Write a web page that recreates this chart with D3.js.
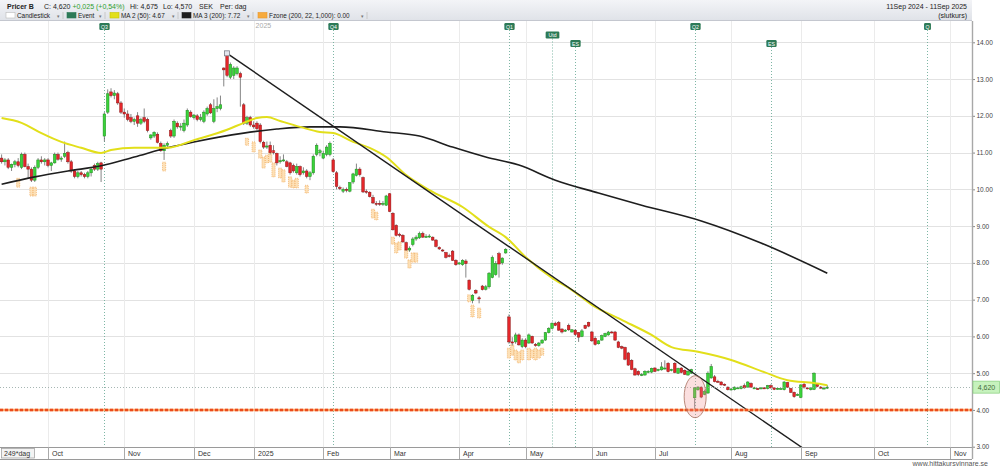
<!DOCTYPE html>
<html>
<head>
<meta charset="utf-8">
<title>Pricer B</title>
<script src="https://cdnjs.cloudflare.com/ajax/libs/d3/7.8.5/d3.min.js"></script>
<style>
  body { margin: 0; background: #fff; }
  svg { display: block; font-family: "Liberation Sans", Arial, sans-serif; }
</style>
</head>
<body>
<script>
// ---------------- data ----------------
// one candle per trading day, index 0 = 11 Sep 2024, index 249 = 11 Sep 2025
var opens = [
  10.85,10.75,10.8,10.6,10.68,10.75,10.6,10.95,10.62,10.55,
  10.25,10.6,10.8,10.75,10.8,10.65,10.72,10.95,10.82,10.9,
  11.0,10.75,10.5,10.35,10.45,10.4,10.35,10.45,10.65,10.55,
  10.72,11.45,12.1,12.65,12.55,12.6,12.35,12.1,12.05,11.95,
  11.85,12.0,11.8,11.95,11.9,11.4,11.45,11.5,11.25,11.05,
  11.2,11.6,11.45,11.8,11.7,11.6,11.75,12.1,11.95,12.0,
  11.9,11.85,12.05,12.3,11.85,12.2,12.2,13.3,13.65,13.05,
  13.1,13.15,13.15,12.3,11.8,11.95,11.75,11.8,11.75,11.28,
  11.15,11.2,11.05,10.98,10.75,10.8,10.75,10.72,10.65,10.45,
  10.62,10.45,10.5,10.35,10.45,10.95,11.0,10.85,10.95,10.95,
  10.8,10.45,10.05,9.95,10.0,9.95,10.2,10.38,10.55,10.32,
  9.95,9.92,9.78,9.62,9.62,9.6,9.57,9.88,9.35,9.02,
  8.78,8.75,8.55,8.35,8.5,8.65,8.68,8.8,8.72,8.72,
  8.7,8.62,8.42,8.35,8.28,8.2,8.32,8.07,7.97,7.95,
  8.05,7.53,6.98,7.25,7.05,7.37,7.28,7.35,7.6,7.68,
  8.25,8.0,8.27,6.53,5.85,5.85,6.04,5.72,5.9,5.82,
  6.0,5.78,5.75,5.82,5.9,6.1,6.22,6.36,6.38,6.2,
  6.15,6.3,6.12,6.17,6.1,6.0,6.3,6.38,6.12,5.95,
  5.8,5.9,6.0,6.04,6.12,6.12,5.85,5.72,5.7,5.55,
  5.35,5.12,5.05,4.95,4.95,5.03,5.03,5.14,5.08,5.09,
  5.12,5.27,5.08,5.27,5.0,5.14,5.08,4.95,5.0,4.33,
  4.55,4.62,4.42,4.46,4.87,4.9,4.78,4.76,4.7,4.62,
  4.56,4.55,4.6,4.58,4.66,4.62,4.72,4.6,4.58,4.58,
  4.6,4.58,4.66,4.6,4.56,4.58,4.55,4.74,4.58,4.48,
  4.42,4.34,4.7,4.6,4.55,4.56,4.7,4.62,4.58,4.6
];
var highs = [
  10.95,10.85,10.85,10.7,10.8,10.85,11.0,11.0,10.7,10.6,
  10.65,10.85,10.9,10.85,10.85,10.75,11.0,11.0,10.9,11.3,
  11.05,10.8,10.55,10.5,10.5,10.45,10.5,10.6,10.7,10.75,
  10.75,12.1,12.72,12.75,12.7,12.65,12.4,12.2,12.15,12.05,
  11.95,12.1,11.95,12.2,11.95,11.5,11.58,11.55,11.3,11.25,
  11.3,11.65,11.9,11.85,11.8,11.9,12.2,12.15,12.05,12.05,
  12.05,12.15,12.25,12.35,12.45,12.5,12.55,13.32,13.72,13.45,
  13.35,13.35,13.2,12.35,12.0,12.0,11.85,11.85,11.8,11.32,
  11.3,11.3,11.2,11.0,10.9,10.95,10.8,10.75,10.7,10.7,
  10.65,10.6,10.55,10.5,10.95,11.25,11.1,11.05,11.2,11.3,
  10.85,10.5,10.1,10.05,10.05,10.2,10.45,10.7,10.6,10.35,
  10.0,9.95,9.85,9.68,9.7,9.68,9.85,9.9,9.38,9.05,
  8.82,8.78,8.58,8.45,8.7,8.75,8.85,8.85,8.78,8.78,
  8.72,8.65,8.45,8.38,8.3,8.25,8.35,8.1,8.02,8.1,
  8.1,7.55,7.15,7.28,7.1,7.4,7.4,7.75,8.2,8.05,
  8.3,8.15,8.4,6.6,5.98,6.1,6.08,5.95,5.95,6.08,
  6.02,5.82,5.85,5.92,6.12,6.25,6.38,6.4,6.42,6.22,
  6.2,6.35,6.2,6.2,6.12,6.2,6.32,6.4,6.15,6.0,
  5.9,6.05,6.1,6.15,6.15,6.15,5.88,5.75,5.72,5.58,
  5.38,5.15,5.08,5.0,5.08,5.08,5.15,5.16,5.12,5.3,
  5.35,5.3,5.12,5.3,5.15,5.16,5.1,5.08,5.12,4.62,
  4.65,4.64,4.55,5.05,5.25,4.95,4.82,4.78,4.72,4.64,
  4.6,4.64,4.63,4.66,4.72,4.78,4.75,4.63,4.6,4.62,
  4.62,4.68,4.7,4.62,4.6,4.6,4.78,4.76,4.6,4.5,
  4.45,4.7,4.75,4.62,4.62,5.02,4.72,4.65,4.63,4.675
];
var lows = [
  10.7,10.65,10.55,10.5,10.6,10.6,10.55,10.6,10.3,10.2,
  10.2,10.55,10.7,10.65,10.6,10.5,10.7,10.78,10.75,10.85,
  10.7,10.45,10.3,10.3,10.35,10.3,10.3,10.35,10.5,10.5,
  10.2,11.3,12.05,12.5,12.45,12.3,12.05,11.95,11.85,11.8,
  11.75,11.7,11.75,11.8,11.55,11.35,11.4,11.25,11.02,10.8,
  11.1,11.4,11.4,11.65,11.6,11.55,11.7,11.95,11.9,11.85,
  11.85,11.8,12.0,12.05,11.8,12.1,12.15,12.8,13.05,13.0,
  13.0,13.1,12.25,11.75,11.75,11.7,11.65,11.6,11.25,11.1,
  11.1,10.95,10.95,10.65,10.7,10.75,10.6,10.4,10.45,10.4,
  10.35,10.4,10.3,10.25,10.4,10.9,10.9,10.82,10.9,10.9,
  10.45,10.0,9.98,9.9,9.92,9.92,10.15,10.35,10.35,9.9,
  9.88,9.78,9.6,9.55,9.55,9.55,9.55,9.38,8.88,8.72,
  8.7,8.55,8.33,8.3,8.45,8.6,8.65,8.68,8.68,8.68,
  8.6,8.42,8.35,8.3,8.12,8.15,8.05,7.92,7.95,7.92,
  7.6,7.25,6.9,7.15,6.9,7.25,7.25,7.3,7.58,7.65,
  7.6,7.95,8.25,5.8,5.75,5.8,5.75,5.68,5.68,5.8,
  5.8,5.72,5.72,5.8,5.88,6.08,6.2,6.28,6.15,6.08,
  6.12,6.15,6.1,6.02,5.85,5.98,6.2,6.25,5.85,5.75,
  5.78,5.88,5.98,6.02,6.08,5.88,5.68,5.65,5.35,5.2,
  5.08,4.93,4.92,4.92,4.93,5.0,5.0,5.03,5.05,5.07,
  5.1,5.02,5.05,5.0,4.98,5.0,4.95,4.93,4.98,4.02,
  4.52,4.32,4.4,4.44,4.85,4.75,4.74,4.67,4.65,4.53,
  4.53,4.53,4.57,4.56,4.58,4.6,4.6,4.57,4.55,4.56,
  4.57,4.56,4.58,4.54,4.55,4.56,4.53,4.6,4.46,4.33,
  4.38,4.32,4.58,4.56,4.53,4.54,4.62,4.58,4.56,4.57
];
var closes = [
  10.75,10.8,10.6,10.68,10.75,10.65,10.95,10.62,10.55,10.25,
  10.6,10.8,10.75,10.8,10.65,10.72,10.95,10.82,10.85,10.98,
  10.75,10.5,10.35,10.45,10.4,10.35,10.45,10.55,10.55,10.7,
  10.55,12.05,12.6,12.55,12.62,12.35,12.1,12.05,11.9,11.85,
  11.9,11.8,11.9,11.85,11.6,11.48,11.55,11.28,11.05,11.2,
  11.25,11.45,11.85,11.7,11.72,11.8,12.15,11.98,12.02,11.9,
  11.95,12.1,12.2,12.08,12.2,12.25,12.3,13.25,13.1,13.4,
  13.3,13.3,13.05,11.8,11.95,11.75,11.7,11.65,11.3,11.15,
  11.18,11.0,11.0,10.72,10.78,10.8,10.62,10.45,10.5,10.62,
  10.4,10.5,10.35,10.45,10.9,11.2,11.05,10.98,11.15,11.25,
  10.48,10.08,10.02,10.0,9.98,10.18,10.42,10.55,10.4,9.93,
  9.92,9.8,9.63,9.6,9.6,9.62,9.82,9.4,8.9,8.75,
  8.75,8.57,8.35,8.4,8.65,8.7,8.8,8.7,8.72,8.73,
  8.62,8.45,8.38,8.33,8.15,8.18,8.07,7.95,8.0,8.07,
  7.98,7.28,7.12,7.18,7.02,7.27,7.35,7.72,8.15,7.98,
  7.97,8.13,8.37,5.85,5.82,6.04,5.77,5.9,5.72,6.04,
  5.82,5.77,5.82,5.9,6.1,6.22,6.36,6.3,6.17,6.12,
  6.17,6.18,6.18,6.05,5.98,6.15,6.22,6.28,5.88,5.78,
  5.88,6.02,6.08,6.12,6.1,5.9,5.7,5.68,5.38,5.22,
  5.1,4.95,4.96,4.96,5.05,5.05,5.13,5.05,5.1,5.17,
  5.14,5.04,5.1,5.02,5.13,5.02,4.97,5.05,5.1,4.6,
  4.62,4.35,4.5,5.0,5.18,4.77,4.76,4.68,4.68,4.55,
  4.57,4.62,4.6,4.63,4.6,4.76,4.62,4.6,4.57,4.6,
  4.59,4.66,4.6,4.56,4.59,4.58,4.76,4.62,4.48,4.36,
  4.42,4.68,4.62,4.58,4.6,5.0,4.64,4.6,4.595,4.62
];

// moving averages, read at points along the curves
var ma50Idx = [0,6,12,18,24,30,33,40,50,58,68,73,77,80,84,90,96,100,106,111,116,122,129,139,147,152,158,166,172,178,187,196,202,210,220,230,237,245,249];
var ma50 = [11.94,11.81,11.53,11.29,11.13,10.99,11.07,11.13,11.13,11.34,11.62,11.81,11.94,11.97,11.86,11.70,11.56,11.53,11.29,11.13,10.88,10.39,9.98,9.52,8.98,8.70,8.16,7.59,7.26,6.86,6.45,6.04,5.71,5.58,5.36,5.03,4.81,4.73,4.67];
var ma200Idx = [0,10,20,30,40,50,58,73,83,93,102,116,126,136,146,156,167,180,193,211,229,249];
var ma200 = [10.14,10.34,10.50,10.64,10.88,11.13,11.29,11.53,11.64,11.70,11.70,11.56,11.45,11.15,10.88,10.66,10.25,9.90,9.57,9.14,8.54,7.72];

// Fzone boxes
var fzIdx = [5,9,10,49,74,76,78,79,80,81,82,84,85,87,88,89,92,112,113,118,119,120,122,123,124,125,141,142,144,153,154,155,156,157,159,160,161,162,163];
var fzTop = [10.30,10.06,10.06,10.74,11.39,11.29,11.07,10.88,10.93,11.02,10.72,10.58,10.53,10.34,10.25,10.30,10.11,9.46,9.38,8.70,8.54,8.57,8.35,8.08,8.27,8.27,7.13,6.85,6.77,5.68,5.77,5.63,5.58,5.63,5.68,5.63,5.68,5.63,5.68];
var fzBot = [10.06,9.82,9.82,10.50,11.20,11.02,10.85,10.58,10.72,10.74,10.34,10.31,10.20,10.06,10.04,10.04,9.90,9.22,9.17,8.51,8.27,8.35,8.13,7.86,8.02,8.02,6.94,6.53,6.50,5.41,5.49,5.36,5.28,5.36,5.36,5.41,5.36,5.41,5.49];

// events
var evIdx = [31, 100, 153, 166, 173, 209, 232, 279];
var evLabel = ["Q3", "Q4", "Q1", "Utd", "ES", "Q2", "ES", "Q"];
var evRow = [0, 0, 0, 1, 2, 0, 2, 0];

// trend line (two anchor points)
var trendIdx = [68, 241];
var trendVal = [13.7, 3.0];

// month boundaries (trading-day index of first day) and labels
var monthIdx = [14, 37, 58, 76, 97, 117, 138, 158, 178, 197, 220, 241, 263, 286];
var monthLabels = ["Oct", "Nov", "Dec", "2025", "Feb", "Mar", "Apr", "May", "Jun", "Jul", "Aug", "Sep", "Oct", "Nov"];

var yTicks = [3, 4, 5, 6, 7, 8, 9, 10, 11, 12, 13, 14];
var lastClose = 4.62;
var supportLevel = 4.0;

// ---------------- layout ----------------
var W = 1000, H = 468;
var plotRight = 972, plotTop = 21, plotBottom = 447;

var x = d3.scaleLinear().domain([0, 286]).range([1.6, 950]);
var y = d3.scaleLinear().domain([3, 14]).range([446.7, 42.3]);

var svg = d3.select("body").append("svg")
    .attr("width", W)
    .attr("height", H);

var defs = svg.append("defs");
var grad = defs.append("linearGradient").attr("id", "hdr")
    .attr("x1", 0).attr("y1", 0).attr("x2", 0).attr("y2", 1);
grad.append("stop").attr("offset", "0%").attr("stop-color", "#f3f4f7");
grad.append("stop").attr("offset", "100%").attr("stop-color", "#dfe2e8");

defs.append("clipPath").attr("id", "plotclip")
  .append("rect")
    .attr("x", 0).attr("y", plotTop)
    .attr("width", plotRight).attr("height", plotBottom - plotTop);

// ---------------- header ----------------
svg.append("rect")
    .attr("x", 0).attr("y", 0)
    .attr("width", plotRight).attr("height", plotTop)
    .attr("fill", "url(#hdr)");
svg.append("line")
    .attr("x1", 0).attr("x2", plotRight)
    .attr("y1", plotTop - 0.5).attr("y2", plotTop - 0.5)
    .attr("stroke", "#c4c7cf");

var hdr = svg.append("g").attr("font-size", 7).attr("fill", "#222");
hdr.append("text").attr("x", 7).attr("y", 8.5).attr("font-weight", "bold").text("Pricer B");
var cTxt = hdr.append("text").attr("x", 44).attr("y", 8.5);
cTxt.append("tspan").text("C: 4,620 ");
cTxt.append("tspan").attr("fill", "#2f9e2f").text("+0,025 (+0,54%)");
hdr.append("text").attr("x", 130).attr("y", 8.5).text("Hi: 4,675");
hdr.append("text").attr("x", 163).attr("y", 8.5).text("Lo: 4,570");
hdr.append("text").attr("x", 199).attr("y", 8.5).text("SEK");
hdr.append("text").attr("x", 220).attr("y", 8.5).text("Per: dag");

hdr.append("text").attr("x", 967).attr("y", 8.5).attr("text-anchor", "end")
    .text("11Sep 2024 - 11Sep 2025");
hdr.append("text").attr("x", 967).attr("y", 17.5).attr("text-anchor", "end")
    .text("(slutkurs)");

// legend row
var legendItems = [
  {x: 6,   fill: "#ffffff", stroke: "#bbb", label: "Candlestick", arrow: 57},
  {x: 67,  fill: "#2d7a57", stroke: "#2d7a57", label: "Event", arrow: 99},
  {x: 110, fill: "#e2df1a", stroke: "#c9c600", label: "MA 2 (50): 4.67", arrow: 172},
  {x: 182, fill: "#1e1e1e", stroke: "#1e1e1e", label: "MA 3 (200): 7.72", arrow: 247},
  {x: 258, fill: "#f7aa3c", stroke: "#e9962a", label: "Fzone (200, 22, 1,000): 0.00", arrow: 361}
];
var leg = hdr.selectAll("g.leg").data(legendItems).enter().append("g").attr("class", "leg");
leg.append("rect")
    .attr("x", function(d) { return d.x; }).attr("y", 12.5)
    .attr("width", 9).attr("height", 5.5)
    .attr("fill", function(d) { return d.fill; })
    .attr("stroke", function(d) { return d.stroke; })
    .attr("stroke-width", 0.6);
leg.append("text")
    .attr("x", function(d) { return d.x + 11; }).attr("y", 18)
    .attr("font-size", 6.4)
    .text(function(d) { return d.label; });
leg.append("text")
    .attr("x", function(d) { return d.arrow; }).attr("y", 17.5)
    .attr("font-size", 5)
    .attr("fill", "#777")
    .text("\u25BE");
leg.append("line")
    .attr("x1", function(d) { return d.arrow + 6; })
    .attr("x2", function(d) { return d.arrow + 6; })
    .attr("y1", 12).attr("y2", 19)
    .attr("stroke", "#c8c8c8");

// ---------------- grid ----------------
var grid = svg.append("g");
grid.selectAll("line.h").data(yTicks).enter().append("line")
    .attr("x1", 0).attr("x2", plotRight)
    .attr("y1", function(d) { return Math.round(y(d)) + 0.5; })
    .attr("y2", function(d) { return Math.round(y(d)) + 0.5; })
    .attr("stroke", function(d) { return d === 3 ? "#9a9a9a" : "#e2e2e2"; });
grid.selectAll("line.v").data(monthIdx).enter().append("line")
    .attr("x1", function(d) { return Math.round(x(d)) + 0.5; })
    .attr("x2", function(d) { return Math.round(x(d)) + 0.5; })
    .attr("y1", plotTop).attr("y2", plotBottom)
    .attr("stroke", "#ebebeb");

// year marker text
svg.append("text")
    .attr("x", x(76) + 2).attr("y", 28)
    .attr("font-size", 7).attr("fill", "#aaa")
    .text("2025");

var plot = svg.append("g").attr("clip-path", "url(#plotclip)");

// ---------------- event lines ----------------
plot.selectAll("line.ev").data(evIdx).enter().append("line")
    .attr("x1", function(d) { return Math.round(x(d)) + 0.5; })
    .attr("x2", function(d) { return Math.round(x(d)) + 0.5; })
    .attr("y1", function(d, i) { return 30 + evRow[i] * 8.5; })
    .attr("y2", plotBottom)
    .attr("stroke", "#6fae9b")
    .attr("stroke-width", 0.9)
    .attr("stroke-dasharray", "1,2");

// ---------------- Fzone boxes ----------------
plot.selectAll("rect.fz").data(fzIdx).enter().append("rect")
    .attr("x", function(d) { return x(d) - 1.6; })
    .attr("y", function(d, i) { return y(fzTop[i]); })
    .attr("width", 3.2)
    .attr("height", function(d, i) { return y(fzBot[i]) - y(fzTop[i]); })
    .attr("fill", "#fde0b6")
    .attr("stroke", "#efa654")
    .attr("stroke-width", 0.7)
    .attr("stroke-dasharray", "1,1");

// ---------------- candles ----------------
var candles = plot.selectAll("g.c").data(closes).enter().append("g");
candles.append("line")
    .attr("x1", function(d, i) { return x(i); })
    .attr("x2", function(d, i) { return x(i); })
    .attr("y1", function(d, i) { return y(highs[i]); })
    .attr("y2", function(d, i) { return y(lows[i]); })
    .attr("stroke", "#666")
    .attr("stroke-width", 0.8);
candles.append("rect")
    .attr("x", function(d, i) { return x(i) - 1.3; })
    .attr("width", 2.6)
    .attr("y", function(d, i) { return y(Math.max(opens[i], d)); })
    .attr("height", function(d, i) { return Math.max(1, Math.abs(y(opens[i]) - y(d))); })
    .attr("fill", function(d, i) { return d >= opens[i] ? "#3ad33a" : "#e4262a"; })
    .attr("stroke", function(d, i) { return d >= opens[i] ? "#1f8a1f" : "#8e1616"; })
    .attr("stroke-width", 0.5);

// ---------------- moving averages ----------------
var maLine = d3.line()
    .x(function(d) { return x(d[0]); })
    .y(function(d) { return y(d[1]); })
    .curve(d3.curveMonotoneX);

plot.append("path")
    .datum(d3.zip(ma200Idx, ma200))
    .attr("d", maLine)
    .attr("fill", "none")
    .attr("stroke", "#1e1e1e")
    .attr("stroke-width", 1.6);

plot.append("path")
    .datum(d3.zip(ma50Idx, ma50))
    .attr("d", maLine)
    .attr("fill", "none")
    .attr("stroke", "#e2df1a")
    .attr("stroke-width", 2);

// ---------------- trend line ----------------
var slope = (trendVal[1] - trendVal[0]) / (trendIdx[1] - trendIdx[0]);
var trendEnd = trendIdx[1] + 10;
plot.append("line")
    .attr("x1", x(trendIdx[0])).attr("y1", y(trendVal[0]))
    .attr("x2", x(trendEnd)).attr("y2", y(trendVal[0] + slope * (trendEnd - trendIdx[0])))
    .attr("stroke", "#1e1e1e")
    .attr("stroke-width", 1.4);
svg.append("rect")
    .attr("x", x(trendIdx[0]) - 2.5).attr("y", y(trendVal[0]) - 2.5)
    .attr("width", 5).attr("height", 5)
    .attr("fill", "#e4e6ee").attr("stroke", "#7c7f8a").attr("stroke-width", 0.8);

// ---------------- horizontal levels ----------------
plot.append("line")
    .attr("x1", 0).attr("x2", plotRight)
    .attr("y1", y(supportLevel)).attr("y2", y(supportLevel))
    .attr("stroke", "#f9a86a").attr("stroke-width", 2.6);
plot.append("line")
    .attr("x1", 0).attr("x2", plotRight)
    .attr("y1", y(supportLevel)).attr("y2", y(supportLevel))
    .attr("stroke", "#ec4a1c").attr("stroke-width", 2.6)
    .attr("stroke-dasharray", "3,2");

plot.append("line")
    .attr("x1", 0).attr("x2", plotRight)
    .attr("y1", Math.round(y(lastClose)) + 0.5).attr("y2", Math.round(y(lastClose)) + 0.5)
    .attr("stroke", "#8fa3a0").attr("stroke-width", 0.8)
    .attr("stroke-dasharray", "1,2");

// circle marking the July dip
plot.append("ellipse")
    .attr("cx", x(209) + 0.5).attr("cy", y(4.36))
    .attr("rx", 11).attr("ry", 21)
    .attr("fill", "rgba(240,140,140,0.28)")
    .attr("stroke", "#a87060").attr("stroke-width", 0.8);

// ---------------- event labels ----------------
var evG = svg.selectAll("g.evl").data(evIdx).enter().append("g");
evG.append("rect")
    .attr("x", function(d, i) { var w = evLabel[i].length * 3.4 + 3.5; return Math.round(x(d)) + 0.5 - w / 2; })
    .attr("y", function(d, i) { return 23 + evRow[i] * 8.5; })
    .attr("width", function(d, i) { return evLabel[i].length * 3.4 + 3.5; })
    .attr("height", 7)
    .attr("rx", 1.2)
    .attr("fill", "#2d7a57");
evG.append("text")
    .attr("x", function(d) { return Math.round(x(d)) + 0.5; })
    .attr("y", function(d, i) { return 28.5 + evRow[i] * 8.5; })
    .attr("text-anchor", "middle")
    .attr("font-size", 5.2)
    .attr("fill", "#fff")
    .text(function(d, i) { return evLabel[i]; });

// ---------------- right axis ----------------
var yAxis = d3.axisRight(y)
    .tickValues(yTicks)
    .tickSize(3)
    .tickPadding(1.5)
    .tickFormat(d3.format(".2f"));
var yAxisG = svg.append("g")
    .attr("transform", "translate(" + plotRight + ",0)")
    .call(yAxis);
yAxisG.select(".domain").remove();
yAxisG.selectAll("line").attr("stroke", "#888");
yAxisG.selectAll("text")
    .attr("font-size", 6.5)
    .attr("font-family", "Liberation Sans, Arial, sans-serif")
    .attr("fill", "#444");

svg.append("line")
    .attr("x1", plotRight + 0.5).attr("x2", plotRight + 0.5)
    .attr("y1", plotTop).attr("y2", 459)
    .attr("stroke", "#a8a8a8").attr("stroke-width", 1.4);

// last price tag
svg.append("rect")
    .attr("x", plotRight + 1).attr("y", y(lastClose) - 6)
    .attr("width", 26.5).attr("height", 12)
    .attr("fill", "#c6f2bd").attr("stroke", "#86cf7c").attr("stroke-width", 0.7);
svg.append("text")
    .attr("x", plotRight + 14.5).attr("y", y(lastClose) + 2.5)
    .attr("text-anchor", "middle")
    .attr("font-size", 7)
    .attr("fill", "#3f6b3a")
    .text("4,620");

// ---------------- bottom time axis ----------------
var band = svg.append("g");
band.append("line")
    .attr("x1", 0).attr("x2", plotRight)
    .attr("y1", 459.5).attr("y2", 459.5)
    .attr("stroke", "#9a9a9a");
band.selectAll("line.sep").data(monthIdx).enter().append("line")
    .attr("x1", function(d) { return Math.round(x(d)) + 0.5; })
    .attr("x2", function(d) { return Math.round(x(d)) + 0.5; })
    .attr("y1", 447).attr("y2", 459)
    .attr("stroke", "#aaa");
band.selectAll("text.m").data(monthIdx).enter().append("text")
    .attr("x", function(d) { return Math.round(x(d)) + 4; })
    .attr("y", 456)
    .attr("font-size", 7)
    .attr("fill", "#333")
    .text(function(d, i) { return monthLabels[i]; });

band.append("rect")
    .attr("x", 1.5).attr("y", 448.5)
    .attr("width", 33).attr("height", 9.5)
    .attr("fill", "#f3f3f3").attr("stroke", "#999").attr("stroke-width", 0.7);
band.append("text")
    .attr("x", 4).attr("y", 456)
    .attr("font-size", 7).attr("fill", "#333")
    .text("249*dag");

svg.append("text")
    .attr("x", 988).attr("y", 466)
    .attr("text-anchor", "end")
    .attr("font-size", 7)
    .attr("fill", "#555")
    .text("www.hittakursvinnare.se");
</script>
</body>
</html>
